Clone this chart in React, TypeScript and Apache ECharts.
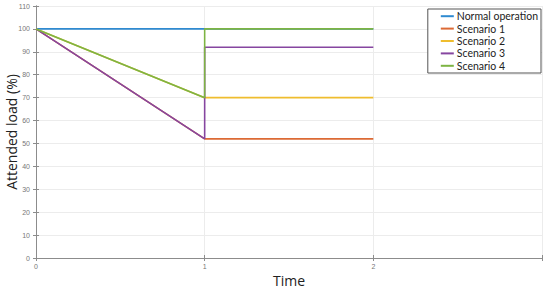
import React, { useEffect, useRef } from "react";
import * as echarts from "echarts";

const seriesNames = ["Normal operation", "Scenario 1", "Scenario 2", "Scenario 3", "Scenario 4"];
const normalOperation = [[0, 100], [2, 100]];
const scenario1 = [[0, 100], [1, 52], [2, 52]];
const scenario2 = [[0, 100], [1, 70], [2, 70]];
const scenario3 = [[0, 100], [1, 52], [1, 92], [2, 92]];
const scenario4 = [[0, 100], [1, 70], [1, 100], [2, 100]];
const seriesData = [normalOperation, scenario1, scenario2, scenario3, scenario4];
const colors = ["#2f8ad0", "#dc6a35", "#efbd2e", "#8646a0", "#7db443"];
const xTickLabels = ["0", "1", "2"];

export default function App() {
  const ref = useRef<HTMLDivElement>(null);
  useEffect(() => {
    const chart = echarts.init(ref.current!, null, { renderer: "svg" });
    const axisLine = { show: true, lineStyle: { color: "#8c8c8c", width: 1 } };
    const splitLine = { show: true, lineStyle: { color: "#ececec", width: 1 } };
    chart.setOption({
      animation: false,
      grid: { left: 36, right: 8, top: 6, bottom: 30, show: false, containLabel: false, outerBoundsMode: "none" },
      legend: {
        orient: "vertical",
        right: 9,
        top: 9,
        data: seriesNames,
        backgroundColor: "#ffffff",
        borderColor: "#555",
        borderWidth: 1,
        padding: [1, 3, 1, 13],
        itemGap: 0,
        itemWidth: 13,
        itemHeight: 2,
        icon: "rect",
        textStyle: { fontFamily: "Lato", fontSize: 10.5, color: "#222", padding: [0, 0, 0, -2], lineHeight: 12.4 },
      },
      xAxis: [
        {
          type: "value",
          min: 0,
          max: 3,
          interval: 1,
          axisLine,
          axisTick: { show: true, inside: true, length: 3, lineStyle: { color: "#8c8c8c" } },
          splitLine,
          axisLabel: {
            fontSize: 7,
            color: "#777",
            margin: 5,
            formatter: (v: number) => (v < xTickLabels.length ? xTickLabels[v] : ""),
          },
          name: "Time",
          nameLocation: "middle",
          nameGap: 15,
          nameMoveOverlap: false,
          nameTextStyle: { fontFamily: "Open Sans", fontSize: 14, color: "#222" },
        },
        {
          type: "value",
          position: "top",
          min: 0,
          max: 3,
          interval: 1,
          axisLine,
          axisTick: { show: true, inside: true, length: 3, lineStyle: { color: "#8c8c8c" } },
          axisLabel: { show: false },
          splitLine: { show: false },
        },
      ],
      yAxis: [
        {
          type: "value",
          min: 0,
          max: 110,
          interval: 10,
          axisLine,
          axisTick: { show: true, inside: true, length: 3, lineStyle: { color: "#8c8c8c" } },
          splitLine,
          axisLabel: { fontSize: 7, color: "#777", margin: 6 },
          name: "Attended load (%)",
          nameLocation: "middle",
          nameGap: 18,
          nameMoveOverlap: false,
          nameTextStyle: { fontFamily: "Open Sans", fontSize: 14, color: "#222" },
        },
        {
          type: "value",
          position: "right",
          min: 0,
          max: 110,
          interval: 10,
          axisLine,
          axisTick: { show: true, inside: true, length: 3, lineStyle: { color: "#8c8c8c" } },
          axisLabel: { show: false },
          splitLine: { show: false },
        },
      ],
      series: seriesNames.map((name, i) => ({
        name,
        type: "line",
        data: seriesData[i],
        showSymbol: false,
        symbol: "none",
        color: colors[i],
        lineStyle: { color: colors[i], width: 1.6 },
      })),
    });
    return () => chart.dispose();
  }, []);
  return <div ref={ref} style={{ width: 550, height: 288, position: "absolute", left: 0, top: 0 }} />;
}
